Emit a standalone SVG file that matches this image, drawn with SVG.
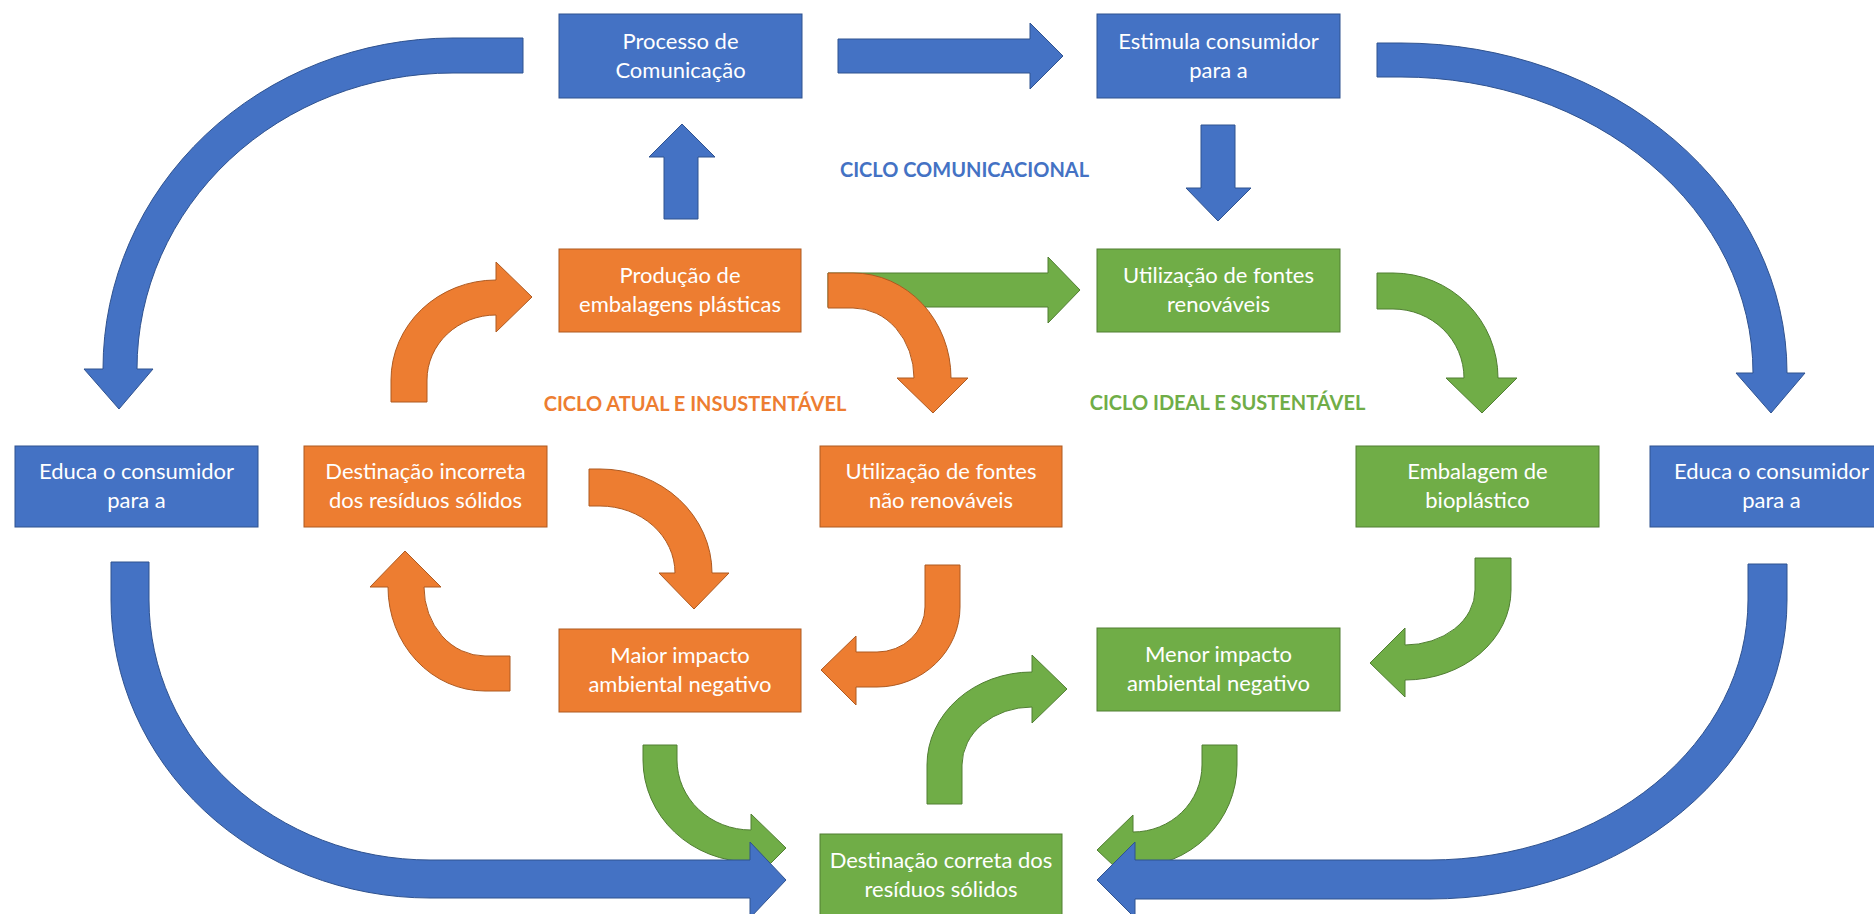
<svg xmlns="http://www.w3.org/2000/svg" width="1874" height="914" viewBox="0 0 1874 914">
  <style>
    .bg{fill:#ffffff}
    .blue{fill:#4472C4;stroke:#2F528F;stroke-width:1}
    .orange{fill:#ED7D31;stroke:#AE5A21;stroke-width:1}
    .green{fill:#70AD47;stroke:#507E32;stroke-width:1}
    .t{font-family:Lato,"Liberation Sans",sans-serif;font-size:22px;fill:#ffffff;text-anchor:middle}
    .lbl{font-family:Lato,"Liberation Sans",sans-serif;font-size:20px;font-weight:bold;text-anchor:middle}
  </style>

  <rect class="bg" x="0" y="0" width="1874" height="914"/>

  <!-- connectors: straight and curved block arrows -->
  <g id="connectors">
    <!-- communication cycle -->
    <path id="arc-processo-educa-l" class="blue" d="M523,38 L453,38 A350,331 0 0 0 103,369 L84,369 L119,409 L153,369 L137,369 A316,296 0 0 1 453,73 L523,73 Z"/>
    <path id="arc-estimula-educa-r" class="blue" d="M1377,43 L1401,43 A386,330 0 0 1 1787,373 L1805,373 L1771,413 L1736,373 L1753,373 A352,296 0 0 0 1401,77 L1377,77 Z"/>
    <path id="up-producao-processo" class="blue" d="M664,219 L664,157 L649,157 L682,124 L715,157 L698,157 L698,219 Z"/>
    <path id="right-processo-estimula" class="blue" d="M838,39 L1030,39 L1030,23 L1063,56 L1030,89 L1030,73 L838,73 Z"/>
    <path id="down-estimula-renovaveis" class="blue" d="M1201,125 L1235,125 L1235,188 L1251,188 L1218,221 L1186,188 L1201,188 Z"/>

    <!-- green straight arrow sits under the orange arc -->
    <path id="right-producao-renovaveis" class="green" d="M828,273 L1048,273 L1048,257 L1080,290 L1048,323 L1048,307 L828,307 Z"/>

    <!-- unsustainable cycle -->
    <path id="arc-incorreta-producao" class="orange" d="M391,402 L391,380 A105,100 0 0 1 496,280 L496,262 L532,297 L496,332 L496,315 A69,65 0 0 0 427,380 L427,402 Z"/>
    <path id="arc-producao-naorenov" class="orange" d="M828,273 L853,273 A98,105 0 0 1 951,378 L968,378 L933,413 L897,378 L914,378 A61,70 0 0 0 853,308 L828,308 Z"/>
    <path id="arc-incorreta-maior" class="orange" d="M589,469 L600,469 A112,104 0 0 1 712,573 L729,573 L694,609 L659,573 L675,573 A75,67 0 0 0 600,506 L589,506 Z"/>
    <path id="arc-maior-incorreta" class="orange" d="M510,691 L485,691 A97,104 0 0 1 388,587 L370,587 L405,551 L441,587 L424,587 A61,69 0 0 0 485,656 L510,656 Z"/>
    <path id="arc-naorenov-maior" class="orange" d="M960,565 L960,607 A83,80 0 0 1 877,687 L856,687 L856,705 L821,670 L856,636 L856,652 L877,652 A48,45 0 0 0 925,607 L925,565 Z"/>

    <!-- sustainable cycle -->
    <path id="arc-renov-bioplastico" class="green" d="M1377,273 L1393,273 A105,105 0 0 1 1498,378 L1517,378 L1482,413 L1446,378 L1464,378 A71,69 0 0 0 1393,309 L1377,309 Z"/>
    <path id="arc-bioplastico-menor" class="green" d="M1511,558 L1511,590 A106,90 0 0 1 1405,680 L1405,697 L1370,663 L1405,628 L1405,645 A70,55 0 0 0 1475,590 L1475,558 Z"/>
    <path id="arc-correta-menor" class="green" d="M927,804 L927,765 A105,93 0 0 1 1032,672 L1032,655 L1067,689 L1032,723 L1032,707 A70,58 0 0 0 962,765 L962,804 Z"/>
    <path id="arc-maior-correta" class="green" d="M643,745 L643,760 A108,102 0 0 0 751,862 L751,883 L786,848 L751,814 L751,830 A74,70 0 0 1 677,760 L677,745 Z"/>
    <path id="arc-menor-correta" class="green" d="M1237,745 L1237,765 A104,102 0 0 1 1133,867 L1133,884 L1097,850 L1133,815 L1133,832 A69,67 0 0 0 1202,765 L1202,745 Z"/>

    <!-- lower communication arcs drawn on top -->
    <path id="arc-educa-l-correta" class="blue" d="M111,562 L111,600 A319,298 0 0 0 430,898 L750,898 L750,918 L786,880 L750,842 L750,860 L430,860 A281,260 0 0 1 149,600 L149,562 Z"/>
    <path id="arc-educa-r-correta" class="blue" d="M1787,564 L1787,600 A357,299 0 0 1 1430,899 L1135,899 L1135,918 L1097,880 L1135,842 L1135,860 L1430,860 A318,260 0 0 0 1748,600 L1748,564 Z"/>
  </g>

  <!-- nodes -->
  <g id="processo">
    <rect class="blue" x="559" y="14" width="243" height="84"/>
    <text class="t" x="680.5" y="48.5">Processo de</text>
    <text class="t" x="680.5" y="77.5">Comunicação</text>
  </g>
  <g id="estimula">
    <rect class="blue" x="1097" y="14" width="243" height="84"/>
    <text class="t" x="1218.5" y="48.5">Estimula consumidor</text>
    <text class="t" x="1218.5" y="77.5">para a</text>
  </g>
  <g id="producao">
    <rect class="orange" x="559" y="249" width="242" height="83"/>
    <text class="t" x="680" y="283">Produção de</text>
    <text class="t" x="680" y="312">embalagens plásticas</text>
  </g>
  <g id="renovaveis">
    <rect class="green" x="1097" y="249" width="243" height="83"/>
    <text class="t" x="1218.5" y="283">Utilização de fontes</text>
    <text class="t" x="1218.5" y="312">renováveis</text>
  </g>
  <g id="educa-l">
    <rect class="blue" x="15" y="446" width="243" height="81"/>
    <text class="t" x="136.5" y="479">Educa o consumidor</text>
    <text class="t" x="136.5" y="508">para a</text>
  </g>
  <g id="incorreta">
    <rect class="orange" x="304" y="446" width="243" height="81"/>
    <text class="t" x="425.5" y="479">Destinação incorreta</text>
    <text class="t" x="425.5" y="508">dos resíduos sólidos</text>
  </g>
  <g id="nao-renovaveis">
    <rect class="orange" x="820" y="446" width="242" height="81"/>
    <text class="t" x="941" y="479">Utilização de fontes</text>
    <text class="t" x="941" y="508">não renováveis</text>
  </g>
  <g id="bioplastico">
    <rect class="green" x="1356" y="446" width="243" height="81"/>
    <text class="t" x="1477.5" y="479">Embalagem de</text>
    <text class="t" x="1477.5" y="508">bioplástico</text>
  </g>
  <g id="educa-r">
    <rect class="blue" x="1650" y="446" width="243" height="81"/>
    <text class="t" x="1771.5" y="479">Educa o consumidor</text>
    <text class="t" x="1771.5" y="508">para a</text>
  </g>
  <g id="maior">
    <rect class="orange" x="559" y="629" width="242" height="83"/>
    <text class="t" x="680" y="663">Maior impacto</text>
    <text class="t" x="680" y="692">ambiental negativo</text>
  </g>
  <g id="menor">
    <rect class="green" x="1097" y="628" width="243" height="83"/>
    <text class="t" x="1218.5" y="662">Menor impacto</text>
    <text class="t" x="1218.5" y="691">ambiental negativo</text>
  </g>
  <g id="correta">
    <rect class="green" x="820" y="834" width="242" height="83"/>
    <text class="t" x="941" y="868">Destinação correta dos</text>
    <text class="t" x="941" y="897">resíduos sólidos</text>
  </g>

  <!-- cycle titles -->
  <g id="labels">
    <text class="lbl" x="964.5" y="177" fill="#4472C4">CICLO COMUNICACIONAL</text>
    <text class="lbl" x="695" y="411" fill="#ED7D31">CICLO ATUAL E INSUSTENTÁVEL</text>
    <text class="lbl" x="1227.5" y="410" fill="#70AD47">CICLO IDEAL E SUSTENTÁVEL</text>
  </g>
</svg>
